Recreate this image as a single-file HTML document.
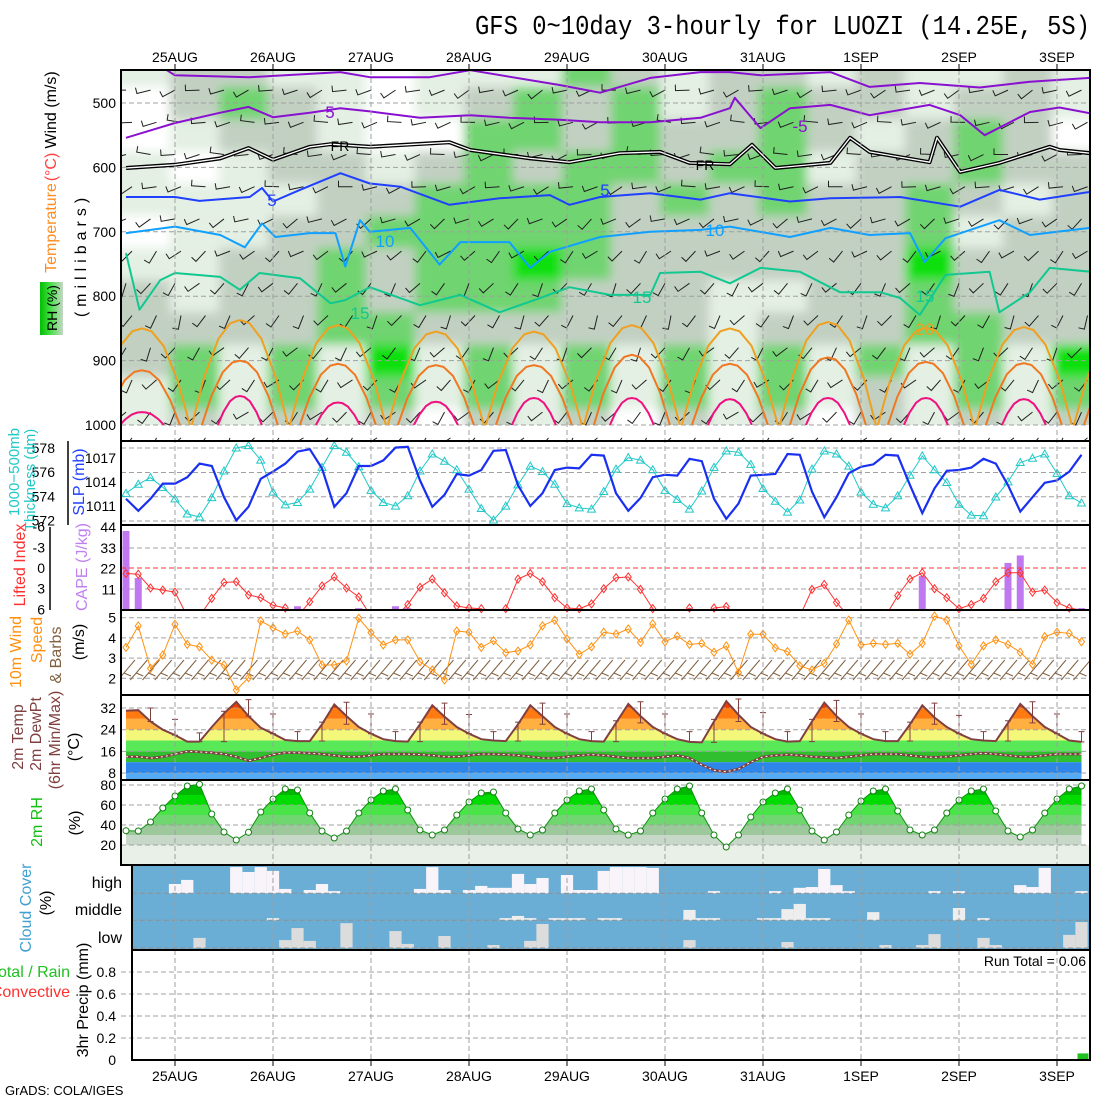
<!DOCTYPE html>
<html><head><meta charset="utf-8"><title>GFS meteogram LUOZI</title>
<style>
html,body{margin:0;padding:0;background:#fff;}
svg{display:block;font-family:"Liberation Sans",sans-serif;}
.tk{font-size:14px;fill:#000;}
</style></head>
<body>
<svg id="chart" width="1100" height="1100" viewBox="0 0 1100 1100" xmlns="http://www.w3.org/2000/svg">
<defs>
  <filter id="blur" x="-5%" y="-5%" width="110%" height="110%"><feGaussianBlur stdDeviation="5"/></filter>
  <clipPath id="cTop"><rect x="121" y="70" width="969" height="355"/></clipPath>
  <clipPath id="cTopAll"><rect x="121" y="70" width="969" height="371"/></clipPath>
  <clipPath id="cSlp"><rect x="121" y="441" width="969" height="84"/></clipPath>
  <clipPath id="cCape"><rect x="121" y="525" width="969" height="85"/></clipPath>
  <clipPath id="cWind"><rect x="121" y="610" width="969" height="85"/></clipPath>
  <clipPath id="cTemp"><rect x="121" y="695" width="969" height="85"/></clipPath>
  <clipPath id="cRh"><rect x="121" y="780" width="969" height="85"/></clipPath>
  <clipPath id="cCloud"><rect x="132" y="866" width="958" height="84"/></clipPath>
  <linearGradient id="rhLeg" x1="0" x2="1" y1="0" y2="0">
    <stop offset="0" stop-color="#00c000"/><stop offset="0.5" stop-color="#50e050"/><stop offset="1" stop-color="#c8d6c8"/>
  </linearGradient>
</defs>

<text x="1090" y="34" text-anchor="end" font-family="Liberation Mono, monospace" font-size="27" textLength="615" lengthAdjust="spacingAndGlyphs">GFS 0~10day 3-hourly for LUOZI (14.25E, 5S)</text>

<g id="topPanel"></g>
<g id="panels"></g>
<g id="frames"></g>
<g id="labels"></g>

<g font-size="16">
  <text transform="translate(56,110) rotate(-90)" text-anchor="middle">Wind (m/s)</text>
  <text transform="translate(56,167) rotate(-90)" text-anchor="middle" fill="#ff4040">(°C)</text>
  <text transform="translate(56,228) rotate(-90)" text-anchor="middle" fill="#ff8c20">Temperature</text>
  <text transform="translate(86,255) rotate(-90)" text-anchor="middle" letter-spacing="5">(millibars)</text>
</g>
<g>
  <rect x="40" y="282" width="23" height="53" fill="url(#rhLeg)"/>
  <text transform="translate(57,308) rotate(-90)" text-anchor="middle" font-size="14">RH (%)</text>
</g>
<g font-size="15">
  <text transform="translate(19,472) rotate(-90)" text-anchor="middle" fill="#20c8c8">1000−500mb</text>
  <text transform="translate(35,480) rotate(-90)" text-anchor="middle" fill="#20c8c8">Thickness (dm)</text>
  <text transform="translate(84,482) rotate(-90)" text-anchor="middle" fill="#2040ff" font-size="16">SLP (mb)</text>
</g>
<g font-size="16">
  <text transform="translate(25,565) rotate(-90)" text-anchor="middle" fill="#ff3030">Lifted Index</text>
  <text transform="translate(87,567) rotate(-90)" text-anchor="middle" fill="#c080f0">CAPE (J/kg)</text>
</g>
<g font-size="16">
  <text transform="translate(21,652) rotate(-90)" text-anchor="middle" fill="#ff9010">10m Wind</text>
  <text transform="translate(42,640) rotate(-90)" text-anchor="middle" fill="#ff9010">Speed</text>
  <text transform="translate(61,655) rotate(-90)" text-anchor="middle" fill="#806040">&amp; Barbs</text>
  <text transform="translate(84,642) rotate(-90)" text-anchor="middle">(m/s)</text>
</g>
<g font-size="16">
  <text transform="translate(23,737) rotate(-90)" text-anchor="middle" fill="#804040">2m Temp</text>
  <text transform="translate(41,734) rotate(-90)" text-anchor="middle" fill="#804040">2m DewPt</text>
  <text transform="translate(60,740) rotate(-90)" text-anchor="middle" fill="#804040">(6hr Min/Max)</text>
  <text transform="translate(79,747) rotate(-90)" text-anchor="middle">(°C)</text>
</g>
<g font-size="16">
  <text transform="translate(42,822) rotate(-90)" text-anchor="middle" fill="#10c010">2m RH</text>
  <text transform="translate(80,823) rotate(-90)" text-anchor="middle">(%)</text>
</g>
<g font-size="16">
  <text transform="translate(31,908) rotate(-90)" text-anchor="middle" fill="#40a0d0">Cloud Cover</text>
  <text transform="translate(51,903) rotate(-90)" text-anchor="middle">(%)</text>
  <text x="122" y="888" text-anchor="end" font-size="16">high</text>
  <text x="122" y="915" text-anchor="end" font-size="16">middle</text>
  <text x="122" y="943" text-anchor="end" font-size="16">low</text>
</g>
<g font-size="16">
  <text transform="translate(88,1000) rotate(-90)" text-anchor="middle">3hr Precip (mm)</text>
  <text x="70" y="977" text-anchor="end" fill="#20c020">Total / Rain</text>
  <text x="70" y="997" text-anchor="end" fill="#ff3030">Convective</text>
</g>
<text x="1086" y="966" text-anchor="end" font-size="14">Run Total = 0.06</text>
<text x="5" y="1095" font-size="13">GrADS: COLA/IGES</text>
</svg>

<script>
// ===== DATA =====
const days = ['25AUG','26AUG','27AUG','28AUG','29AUG','30AUG','31AUG','1SEP','2SEP','3SEP'];
const slp = [1011.9,1010.4,1011.9,1013.8,1013.8,1014.6,1016.3,1016.0,1012.1,1009.2,1010.9,1014.4,1015.3,1016.3,1017.8,1018.1,1015.7,1010.9,1012.6,1016.0,1016.0,1016.7,1018.3,1018.4,1014.2,1010.9,1012.4,1015.0,1014.8,1015.5,1017.9,1018.0,1013.6,1011.0,1012.6,1015.5,1015.8,1015.7,1017.4,1017.3,1012.6,1010.4,1012.0,1014.6,1014.9,1014.8,1016.9,1016.6,1011.9,1009.4,1011.3,1014.8,1014.9,1015.0,1017.5,1017.4,1012.8,1009.6,1012.1,1015.1,1015.9,1016.2,1017.4,1017.3,1013.6,1010.1,1013.2,1015.4,1015.5,1015.8,1016.9,1016.3,1013.6,1010.3,1012.1,1013.9,1014.2,1015.3,1017.4];
const thick = [574.25,575.0,575.55,574.75,573.8,572.55,572.3,573.9,576.1,578.0,578.2,577.0,574.35,573.3,573.5,574.6,576.4,578.2,577.65,576.45,574.5,573.5,573.2,574.05,576.1,577.5,576.9,576.2,574.6,573.0,572.05,573.2,574.95,576.5,576.05,575.0,573.4,573.05,572.95,574.4,576.25,577.2,577.0,576.2,574.5,573.75,572.95,574.45,576.4,577.75,577.65,576.65,574.65,573.6,572.7,573.7,576.25,577.75,577.5,576.5,574.35,573.35,573.05,574.05,575.75,577.35,576.2,575.15,573.35,572.45,572.4,573.95,575.2,576.8,577.15,577.5,575.9,574.05,573.45];
const liftedIndex = [0.8,0.9,2.9,3.2,3.5,7,7,4.4,2.1,2.0,3.9,4.3,5.4,5.8,7,4.9,2.6,1.3,2.9,4.2,7,7,7,5.3,2.8,1.6,3.6,5.5,5.8,5.9,7,5.9,1.6,0.8,2.0,4.3,5.8,5.9,5.2,3.0,1.4,1.3,3.1,5.9,7,7,5.8,7,5.8,5.6,7,7,7,7,7,7,3.1,2.4,5.0,7,7,7,7,4.0,1.6,0.7,3.0,4.3,5.9,5.3,4.4,2.0,0.7,0.7,3.5,3.2,5.0,5.8,6.1];
const capeIdx = [0,1,14,19,22,23,65,72,73,78];
const capeVal = [42,17,2,1,2,1,18,25,29,1];
const windSpeed = [3.53,4.59,2.49,3.15,4.67,3.68,3.56,2.9,2.66,1.42,2.03,4.84,4.5,4.19,4.34,3.9,2.66,2.66,2.86,4.97,4.26,3.65,3.9,3.9,2.82,2.41,1.92,4.34,4.28,3.53,3.86,3.27,3.35,3.65,4.6,4.88,3.94,3.19,3.56,4.28,4.19,4.44,3.78,4.69,3.81,4.09,3.68,3.73,3.29,3.6,2.28,4.18,4.18,3.51,3.32,2.62,2.41,2.74,3.7,4.88,3.65,3.73,3.68,3.73,3.19,3.73,5.08,4.88,3.61,2.69,3.61,3.9,3.68,3.29,2.69,4.06,4.28,4.23,3.81];
const temp2m = [31,31.2,27,24,22,19.6,19.6,25,30, 34.3,29,24.7,22.5,20.2,19.8,19.8,26, 33.3,29,25,22.5,20.5,19.8,19.6,26, 33,28.8,25,22.5,20.5,20,19.8,26, 33,29,25,22.5,20.5,19.8,19.6,26.5, 33.5,29,25,22.5,20.5,19.5,19.3,27, 34.5,29.5,25,22.5,20.5,19.6,19.8,27, 34,29,25,22.5,20.5,19.8,19.8,26, 33,28.5,25,22.5,20.5,20,19.8,26.5, 33.5,29,25,22.5,20,19.5];
const dew2m = [14,14,13.5,14,15,16,15.8,15.5,15, 14,12.5,13.5,14.8,15.5,15.5,15.3,15, 14.5,14,14,14.5,15,15,15,14.8, 14.5,14,14,14.5,15,15,14.8,14.5, 14,13.5,13.5,14,14.5,14.8,14.5,14, 13.5,13.5,13.5,14,14.5,13.5,11,9, 8.5,9.5,12,14,14.5,14.8,14.5,14, 13.8,13.5,14,14.5,15,15,15,14.5, 14,13.8,14,14.5,15,15.3,15,14.5, 14,14,14.5,15,15,15];
const rh2m = [34.3,34,43,57,69,79,80.7,51,33, 25,32.7,53,66,76,75,52,34, 27,34,52,65,74,76,55,35, 30,35,50,63,72,73,52,36, 30,35,52,65,74,76,55,36, 30,34,52,66,76,79,52,30, 18,30,48,63,72,76,55,34, 25,33,50,64,74,76,54,35, 30,35,52,65,74,76,54,34, 28,35,52,66,76,79];
const highIdx = [4,5,9,10,11,12,13,15,16,17,24,25,26,28,29,30,31,32,33,34,36,37,38,39,40,41,42,43,48,53,55,56,57,58,59,66,68,73,74,75,78];
const highVal = [34,49,96,78,96,82,16,12,34,8,16,96,12,12,27,20,20,71,34,56,67,12,12,82,96,96,96,93,8,8,20,23,89,30,8,8,8,30,23,93,8];
const midIdx = [12,31,32,33,35,36,37,39,40,46,47,48,52,53,54,55,56,57,61,68,70];
const midVal = [8,8,16,8,8,8,8,8,8,38,8,8,8,8,41,60,8,8,30,45,8];
const lowIdx = [6,13,14,15,18,22,23,26,30,33,34,46,54,62,65,66,70,71,77,78];
const lowVal = [37,29,73,26,91,62,15,44,11,26,88,29,22,11,11,51,37,11,48,95];
const precipIdx = [78];
const precipVal = [0.06];
const rhLevels = [450,500,550,600,650,700,750,800,850,900,950,1000];
const rhGrid = [
 [1,2,2,1,1,0,1,1,1,3,2,1,2,2,1,2,1,1,2,1],
 [0,2,3,2,1,0,1,2,3,2,3,1,2,3,2,2,1,2,2,1],
 [0,1,2,2,1,0,0,3,3,2,3,2,2,3,2,1,2,3,2,0],
 [1,0,1,2,2,1,2,3,2,3,3,2,3,3,1,2,2,3,2,2],
 [1,1,1,1,2,2,3,3,3,3,2,3,2,3,2,2,3,2,1,2],
 [0,1,1,2,2,3,3,3,3,3,2,2,2,2,2,2,3,1,2,2],
 [1,1,2,2,3,2,3,3,4,3,2,2,2,2,2,2,4,2,2,2],
 [2,1,2,2,3,2,3,3,3,2,2,2,1,1,2,2,3,2,2,2],
 [2,2,2,2,3,3,2,2,2,2,2,2,1,2,2,2,3,3,2,2],
 [2,3,1,3,1,4,1,3,1,3,1,3,1,3,1,3,1,3,1,4],
 [1,3,1,3,1,3,1,3,1,3,1,3,1,3,1,2,1,3,1,3],
 [1,2,1,2,1,2,0,2,1,2,0,2,1,2,0,2,1,2,1,2]
];
const isoM10T = [3,4,10.1,17.5,19.9,24.8,28.1,35.4,38.7,42.8,46.9,49.3,51.8,57.5,60.7,64.8,69.7,73.8,78.7];
const isoM10P = [445,457,460,452,460,460,449,472,484,461,452,452,457,452,475,469,476,467,461];
const isoM5T = [0,4,7.7,10,12,15,17.5,19.9,24,28.1,31.3,35.4,38.7,42.8,46.9,49.3,49.7,51.8,54.2,57.5,60.7,65.6,68.1,70.1,73.8,76.2,78.7];
const isoM5P = [554,531,515,506,522,515,508,513,523,519,523,526,530,530,523,508,492,539,508,503,519,503,519,550,514,507,516];
const isoFrT = [0,4,7.7,10,12,15,16.7,19.9,26.4,28.1,33,36.2,40.3,43.6,46,49.3,51.1,53,57.5,59.1,60.7,65.6,66.2,68.1,71.3,75.4,76.2,78.7];
const isoFrP = [601,596,586,570,588,568,564,568,561,573,586,592,578,576,593,595,565,601,593,554,576,592,554,607,593,568,573,578];
const iso5T = [0,4,6,10.1,11.1,12,14.2,17.5,19.9,22.4,26.4,30.5,34.6,36.2,38.7,42.8,46.9,49.3,54.2,57.5,63.2,68.1,71.3,74.6,78.7];
const iso5P = [646,646,652,646,632,653,635,609,625,630,658,648,643,658,646,640,650,640,653,648,646,661,635,650,638];
const iso10T = [0,4,7.7,9.7,11.1,12.2,15,17.1,17.9,19.1,19.9,23.2,25.6,27.3,31.3,33,34.6,38.7,42.8,46.9,49.3,54.2,57.5,60.7,64,65.2,66.9,71.3,73.8,78.7];
const iso10P = [702,692,705,724,687,708,702,702,754,682,700,694,751,716,716,756,731,708,700,697,692,708,694,705,702,747,710,682,705,694];
const iso15T = [0,1.1,2.8,4,7.7,9.3,10.9,14.2,16.7,17.9,19.9,24,27.3,30.5,33.8,36.2,39.5,42.8,43.6,46.9,49.3,51.8,55,58.3,61.6,63.2,64.8,66.9,70.5,71.3,73.8,75.4,78.7];
const iso15P = [733,821,775,764,770,790,764,772,811,806,786,814,798,825,803,786,798,798,764,762,780,756,762,794,794,803,829,767,762,825,794,756,762];
const archT = [1.3,9.3,17.3,25.3,33.3,41.3,49.3,57.3,65.3,73.3,81.3];
const arch20P = [850,837,845,855,855,845,850,840,849,848,850];
const arch25P = [915,900,905,907,907,891,905,895,902,904,905];
const arch30P = [980,955,965,964,958,958,960,958,958,960,960];

// ===== SCALES =====
const X = i => 126 + 12.25*i;
const P = p => 103 + (p-500)*0.644;
const slpY = v => 458 - (v-1017)*8;
const thkY = v => 448 - (v-578)*12.1;
const capeY = v => 610 - v*20.7/11;
const liY = v => 568 + v*20.7/3;
const wsY = v => 617.7 + (5-v)*20.2;
const tY = v => 708 + (32-v)*2.71;
const rhY = v => 865 - v;
const prY = v => 1060 - v*110;
const dayX = k => X(4 + 8*k);

const NS = 'http://www.w3.org/2000/svg';
function mk(tag, attrs, parent){
  const e = document.createElementNS(NS, tag);
  for (const k in attrs) e.setAttribute(k, attrs[k]);
  parent.appendChild(e);
  return e;
}
const topG = document.getElementById('topPanel');
const pan = document.getElementById('panels');
const framesG = document.getElementById('frames');
const labelsG = document.getElementById('labels');
const defsEl = document.querySelector('#chart defs');

// ===== TOP PANEL =====
const rhColors = ['#ffffff','#e4f0e4','#c2d0c2','#70d470','#10e010'];
const rhg = mk('g', {'clip-path':'url(#cTop)'}, topG);
const rhInner = mk('g', {filter:'url(#blur)'}, rhg);
for (let r = 0; r < rhLevels.length; r++){
  for (let c = 0; c < rhGrid[r].length; c++){
    let x0 = 121 + 49*c, w = 49;
    if (c === 0){ x0 -= 40; w += 40; }
    if (c === rhGrid[r].length-1){ w += 40; }
    let y0 = P(rhLevels[r]-25), y1 = P(rhLevels[r]+25);
    if (r === 0) y0 -= 40;
    if (r === rhLevels.length-1) y1 += 20;
    const cell = mk('rect', {x:x0, y:y0, width:w+0.5, height:y1-y0+0.5, fill:rhColors[rhGrid[r][c]]}, rhInner);
    
    
  }
}
const topGrid = mk('g', {}, topG);
[500,600,700,800,900,1000].forEach(p=>{
  const l = mk('line', {x1:121, x2:1090, y1:P(p), y2:P(p), stroke:'#a0a0a0', 'stroke-dasharray':'5,3', 'stroke-width':1}, topGrid);
  
  
  const t = mk('text', {x:116, y:P(p)+5, 'text-anchor':'end', class:'tk'}, labelsG);
  t.textContent = p;
  
  
});
const barbG = mk('g', {'clip-path':'url(#cTopAll)', stroke:'#202020', 'stroke-width':1, fill:'none'}, topG);
const barbLevels = [480,530,580,630,680,730,780,830,880,930,980,1020];
const barbAngles = [200,190,190,195,210,220,235,240,235,230,230,230];
for (let r = 0; r < barbLevels.length; r++){
  for (let i = 0; i <= 78; i += 2){
    const x = X(i) + (r%2)*6, y = P(barbLevels[r]);
    const a = (barbAngles[r] + ((i*7+r*13)%40) - 20) * Math.PI/180;
    const len = 14;
    const x2 = x + len*Math.cos(a), y2 = y - len*Math.sin(a);
    const tx = x2 + 6*Math.cos(a - Math.PI/2), ty = y2 - 6*Math.sin(a - Math.PI/2);
    const b = mk('path', {d:`M${x},${y}L${x2},${y2}L${tx},${ty}`}, barbG);
    
    
  }
}
const isoG = mk('g', {'clip-path':'url(#cTop)', fill:'none'}, topG);
function iso(T, Pp, color, w, name){
  const d = T.map((t,k)=>(k?'L':'M')+X(t).toFixed(1)+','+P(Pp[k]).toFixed(1)).join('');
  const e = mk('path', {d, stroke:color, 'stroke-width':w, 'stroke-linejoin':'round'}, isoG);
  
  
  return d;
}
iso(isoM10T, isoM10P, '#8a10d0', 2, 'isotherm-minus10');
iso(isoM5T, isoM5P, '#8a10d0', 2, 'isotherm-minus5');
const frd = iso(isoFrT, isoFrP, '#000', 4, 'freezing-level');
const frIn = mk('path', {d:frd, stroke:'#fff', 'stroke-width':1.3, fill:'none'}, isoG);


iso(iso5T, iso5P, '#2040ff', 2, 'isotherm-5');
iso(iso10T, iso10P, '#10a0ff', 2, 'isotherm-10');
iso(iso15T, iso15P, '#10c890', 2, 'isotherm-15');
const archShapeF = [-1,-0.75,-0.45,-0.2,0,0.2,0.45,0.75,1];
const archShapeH = [0,0.45,0.82,0.97,1,0.97,0.82,0.45,0];
function arches(Pk, hw, color, name){
  archT.forEach((t,k)=>{
    const d = archShapeF.map((f,j)=>{
      const p = 1000 - (1000-Pk[k])*archShapeH[j];
      return (j?'L':'M')+(X(t)+f*hw).toFixed(1)+','+P(p).toFixed(1);
    }).join('');
    const e = mk('path', {d, stroke:color, 'stroke-width':2, fill:'none'}, isoG);
    
    
  });
}
arches(arch20P, 48, '#f0a020', 'isotherm-20');
arches(arch25P, 38, '#f07820', 'isotherm-25');
arches(arch30P, 22, '#f01080', 'isotherm-30');
[[330,118,'#8a10d0','5'],[800,132,'#8a10d0','-5'],[272,206,'#2040ff','5'],[605,196,'#2040ff','5'],[385,247,'#10a0ff','10'],[715,236,'#10a0ff','10'],[360,319,'#10c890','15'],[642,303,'#10c890','15'],[925,302,'#10c890','15'],[925,335,'#f0a020','20']].forEach(a=>{
  const t = mk('text', {x:a[0], y:a[1], fill:a[2], 'font-size':17, 'text-anchor':'middle'}, topG);
  t.textContent = a[3];
  
  
});
[[340,151],[705,170]].forEach(a=>{
  const t = mk('text', {x:a[0], y:a[1], 'font-size':14, 'text-anchor':'middle', fill:'#000'}, topG);
  t.textContent = 'FR';
  
  
});

// ===== PANEL HELPERS =====
function hgrid(ys, name){
  ys.forEach(y=>{
    const l = mk('line', {x1:121, x2:1090, y1:y, y2:y, stroke:'#a0a0a0', 'stroke-dasharray':'5,3'}, pan);
    
    
  });
}
function ticks(vals, yf, x, anchor, name){
  vals.forEach(v=>{
    const t = mk('text', {x, y:yf(v)+5, 'text-anchor':anchor, class:'tk'}, labelsG);
    t.textContent = v;
    
    
  });
}
function line(vals, xf, yf, color, w, clip, name){
  const d = vals.map((v,i)=>(i?'L':'M')+xf(i).toFixed(1)+','+yf(v).toFixed(1)).join('');
  const e = mk('path', {d, stroke:color, 'stroke-width':w, fill:'none', 'clip-path':clip}, pan);
  
  
}

// SLP panel
hgrid([448,472.5,496.7,521], 'thickness-gridline');
ticks([578,576,574,572], thkY, 55, 'end', 'thickness-tick');
ticks([1017,1014,1011], slpY, 116, 'end', 'slp-tick');
line(thick, X, thkY, '#20c8c8', 1, 'url(#cSlp)', 'thickness-line');
thick.forEach((v,i)=>{
  const x = X(i), y = thkY(v);
  const m = mk('path', {d:`M${x},${y-4}L${x+4},${y+3}L${x-4},${y+3}Z`, fill:'none', stroke:'#20c8c8', 'stroke-width':1}, pan);
  
  
});
line(slp, X, slpY, '#1a30f0', 2.2, 'url(#cSlp)', 'slp-line');

// CAPE panel
hgrid([548,568,589], 'cape-gridline');
ticks([44,33,22,11], capeY, 116, 'end', 'cape-tick');
ticks([-6,-3,0,3,6], liY, 45, 'end', 'lifted-index-tick');
capeIdx.forEach((i,k)=>{
  const b = mk('rect', {x:X(i)-3.5, y:capeY(capeVal[k]), width:7, height:610-capeY(capeVal[k]), fill:'#c078f0'}, pan);
  
  
});
const li0 = mk('line', {x1:121, x2:1090, y1:liY(0), y2:liY(0), stroke:'#ff3030', 'stroke-dasharray':'5,3'}, pan);


line(liftedIndex, X, liY, '#ff3030', 1, 'url(#cCape)', 'lifted-index-line');
liftedIndex.forEach((v,i)=>{
  if (v > 6) return;
  const x = X(i), y = liY(v);
  const m = mk('path', {d:`M${x},${y-4}L${x+3},${y}L${x},${y+4}L${x-3},${y}Z`, fill:'none', stroke:'#ff3030'}, pan);
  
  
});

// Wind panel
hgrid([617.7,637.9,658.1,678.3], 'wind-gridline');
ticks([5,4,3,2], wsY, 116, 'end', 'wind-tick');
const wbG = mk('g', {stroke:'#806040', 'stroke-width':1, fill:'none', 'clip-path':'url(#cWind)'}, pan);
windSpeed.forEach((v,i)=>{
  const x = X(i), y = 672;
  const b = mk('path', {d:`M${x-8},${y+8}L${x+9},${y-12}M${x-2},${y+1}L${x+5},${y+4}`}, wbG);
  
  
});
line(windSpeed, X, wsY, '#ff9010', 1, 'url(#cWind)', 'wind-speed-line');
windSpeed.forEach((v,i)=>{
  const x = X(i), y = wsY(v);
  const m = mk('path', {d:`M${x},${y-4}L${x+3},${y}L${x},${y+4}L${x-3},${y}Z`, fill:'none', stroke:'#ff9010'}, pan);
  
  
});

// Temp panel
const tPoly = 'M'+X(0)+',780 ' + temp2m.map((v,i)=>'L'+X(i).toFixed(1)+','+tY(v).toFixed(1)).join('') + ' L'+X(78)+',780Z';
const tcp = mk('clipPath', {id:'tArea'}, defsEl);
mk('path', {d:tPoly}, tcp);
const bandG = mk('g', {'clip-path':'url(#tArea)'}, pan);
const tBandLo = [32,28,24,20,16,12,8,-20];
const tBandHi = [60,32,28,24,20,16,12,8];
const tBandCol = ['#f03c00','#ff7a10','#ffb040','#f4f87a','#58e858','#2fbf2f','#2e86e8','#55aaf5'];
tBandLo.forEach((lo,k)=>{
  const y0 = Math.max(695, tY(tBandHi[k])), y1 = Math.min(780, tY(lo));
  if (y1 <= y0) return;
  const r = mk('rect', {x:121, y:y0, width:969, height:y1-y0, fill:tBandCol[k]}, bandG);
  
  
});
hgrid([708,729.7,751.4,773], 'temp-gridline');
ticks([32,24,16,8], tY, 116, 'end', 'temp-tick');
line(dew2m, X, tY, '#804040', 2.5, 'url(#cTemp)', 'dewpoint-line');
const dd = dew2m.map((v,i)=>(i?'L':'M')+X(i).toFixed(1)+','+tY(v).toFixed(1)).join('');
const dw = mk('path', {d:dd, stroke:'#ffffff', 'stroke-width':1, 'stroke-dasharray':'2,3', fill:'none'}, pan);


line(temp2m, X, tY, '#804040', 2, 'url(#cTemp)', 'temperature-line');
for (let i = 2; i < temp2m.length; i += 2){
  const seg = temp2m.slice(i-2, i+1);
  const hi = Math.max(...seg)+0.8, lo = Math.min(...seg);
  const x = X(i);
  const b = mk('path', {d:`M${x},${tY(hi)}L${x},${tY(lo)}M${x-3},${tY(hi)}L${x+3},${tY(hi)}M${x-3},${tY(lo)}L${x+3},${tY(lo)}`, stroke:'#804040', 'stroke-width':1, fill:'none', 'clip-path':'url(#cTemp)'}, pan);
  
  
}

// RH panel
const rhBase = mk('rect', {x:121, y:rhY(20), width:969, height:20, fill:'#e8f0e8'}, pan);


const rhPoly = 'M'+X(0)+',865 ' + rh2m.map((v,i)=>'L'+X(i).toFixed(1)+','+rhY(v).toFixed(1)).join('') + ' L'+X(78)+',865Z';
const rcp = mk('clipPath', {id:'rhArea'}, defsEl);
mk('path', {d:rhPoly}, rcp);
const rhBandG = mk('g', {'clip-path':'url(#rhArea)'}, pan);
const rhBandLo = [70,60,50,40,30,20,0];
const rhBandHi = [100,70,60,50,40,30,20];
const rhBandCol = ['#00b800','#00dc00','#48e448','#70d670','#9cc89c','#c8d8c8','#e8f0e8'];
rhBandLo.forEach((lo,k)=>{
  const y0 = Math.max(780, rhY(rhBandHi[k])), y1 = rhY(lo);
  const r = mk('rect', {x:121, y:y0, width:969, height:y1-y0, fill:rhBandCol[k]}, rhBandG);
  
  
});
hgrid([785,805,825,845], 'rh-gridline');
ticks([80,60,40,20], rhY, 116, 'end', 'rh-tick');
line(rh2m, X, rhY, '#109010', 1, 'url(#cRh)', 'rh-line');
rh2m.forEach((v,i)=>{
  const c = mk('circle', {cx:X(i), cy:rhY(v), r:3, fill:'#fff', stroke:'#108010', 'stroke-width':1}, pan);
  
  
});

// Cloud panel
const cbg = mk('rect', {x:132, y:866, width:958, height:84, fill:'#6aaed6'}, pan);


const cloudG = mk('g', {'clip-path':'url(#cCloud)'}, pan);
function clouds(idx, vals, base, color, name){
  idx.forEach((i,k)=>{
    const h = vals[k]/100*27.3;
    const r = mk('rect', {x:X(i)-6.125, y:base-h, width:12.25, height:h, fill:color}, cloudG);
    
    
  });
}
clouds(highIdx, highVal, 893.3, '#f8f4fa', 'high-cloud-bar');
clouds(midIdx, midVal, 920.3, '#eeeeee', 'middle-cloud-bar');
clouds(lowIdx, lowVal, 948, '#dcdcdc', 'low-cloud-bar');
[893.3,920.3,948].forEach(y=>{
  const l = mk('line', {x1:132, x2:1090, y1:y, y2:y, stroke:'#909090', 'stroke-dasharray':'5,3'}, pan);
  
  
});

// Precip panel
hgrid([prY(0.8),prY(0.6),prY(0.4),prY(0.2)], 'precip-gridline');
ticks([0.8,0.6,0.4,0.2,0], prY, 116, 'end', 'precip-tick');
precipIdx.forEach((i,k)=>{
  const b = mk('rect', {x:X(i)-4, y:prY(precipVal[k]), width:11, height:1060-prY(precipVal[k]), fill:'#20c020'}, pan);
  
  
});

// day gridlines + labels
days.forEach((d,k)=>{
  const x = dayX(k);
  const l = mk('line', {x1:x, x2:x, y1:70, y2:1060, stroke:'#a0a0a0', 'stroke-dasharray':'5,3'}, framesG);
  
  
  const tk1 = mk('line', {x1:x, x2:x, y1:64, y2:70, stroke:'#000'}, framesG);
  
  
  const tk2 = mk('line', {x1:x, x2:x, y1:1060, y2:1066, stroke:'#000'}, framesG);
  
  
  const t1 = mk('text', {x, y:62, 'text-anchor':'middle', 'font-size':14}, labelsG);
  t1.textContent = d;
  
  
  const t2 = mk('text', {x, y:1081, 'text-anchor':'middle', 'font-size':14}, labelsG);
  t2.textContent = d;
  
  
});

[[121,70,969,371],[121,441,969,84],[121,525,969,85],[121,610,969,85],[121,695,969,85],[121,780,969,85],[132,865,958,85],[132,950,958,110]].forEach(f=>{
  const r = mk('rect', {x:f[0], y:f[1], width:f[2], height:f[3], fill:'none', stroke:'#000', 'stroke-width':2}, framesG);
  
  
});
const ax1 = mk('line', {x1:68, x2:68, y1:441, y2:525, stroke:'#000', 'stroke-width':1.5}, framesG);


const ax2 = mk('line', {x1:50, x2:50, y1:527, y2:610, stroke:'#000', 'stroke-width':1.5}, framesG);


</script>
</body></html>
